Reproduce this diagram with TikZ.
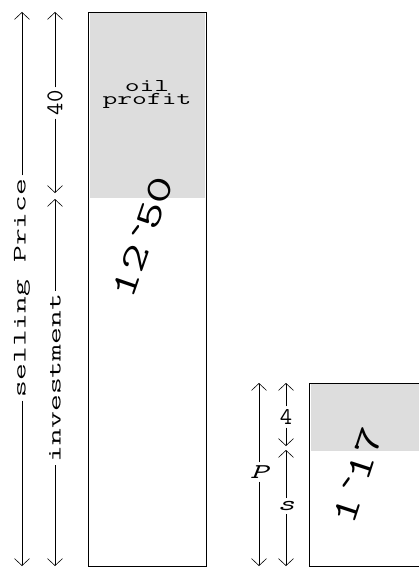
\documentclass[tikz,border=0pt]{standalone}
\usepackage{fontspec}
\usepackage{tikz}
\usetikzlibrary{
	arrows.meta,
	positioning,
}
\newfontfamily\plotfont[FakeStretch=1.6]{Latin Modern Mono}
\newfontfamily\dimfont[FakeStretch=1.72]{Latin Modern Mono}
\newfontfamily\digitfont{Latin Modern Mono}
\newfontfamily\slantfont[FakeStretch=1.45]{Latin Modern Mono}
\definecolor{profitgray}{RGB}{221,221,221}
\tikzset{
	bar/.style={draw=black, line width=0.8pt},
	profit/.style={fill=profitgray},
	dim line/.style={line width=0.6pt, -{Straight Barb[length=7pt,width=15pt]}},
	dim word/.style={inner sep=3pt, rotate=90, font=\dimfont\fontsize{19}{19}\selectfont},
	dim digits/.style={inner sep=3pt, font=\digitfont\fontsize{24}{24}\selectfont},
	dim letter/.style={inner sep=3pt, font=\plotfont\itshape\fontsize{21}{21}\selectfont},
	box word/.style={align=center, inner sep=0pt, font=\plotfont\fontsize{18}{13}\selectfont},
	box figure/.style={inner sep=0pt, font=\slantfont\fontsize{36}{36}\selectfont},
}

\begin{document}
\begin{tikzpicture}[x=1pt,y=-1pt]
\useasboundingbox (0,0) rectangle (419,567);

% oil bar
\fill[profit] (90,13) rectangle (205,198);
\draw[bar] (88,12) rectangle (206,566);
\node[box word] (oil) at (147,94) {oil\\profit};
\node[box figure, rotate=71] (oil price) at (143,237) {12\textasciigrave50};

% small bar
\fill[profit] (311,384) rectangle (425,451);
\draw[bar] (309,383) rectangle (425,566);
\node[box figure, rotate=72] (small price) at (358,476) {1\textasciigrave17};

% dimension labels
\node[dim word] (sp) at (22,288) {selling Price};
\node[dim word] (inv) at (55,378) {investment};
\node[dim digits, rotate=90] (forty) at (55,103) {40};
\node[dim letter] (P) at (259,472) {P};
\node[dim digits] (four) at (286,417) {4};
\node[dim letter] (s) at (286,506) {s};

\foreach \n/\x/\a/\b in {
	sp/22/12/566, forty/55/12/193, inv/55/199/566,%
	P/259/383/566, four/286/383/446, s/286/450/566%
}{
	\coordinate (\n top) at (\x,\a);
	\coordinate (\n bottom) at (\x,\b);
	\draw[dim line] (\n) -- (\n top);
	\draw[dim line] (\n) -- (\n bottom);
}

\end{tikzpicture}
\end{document}
